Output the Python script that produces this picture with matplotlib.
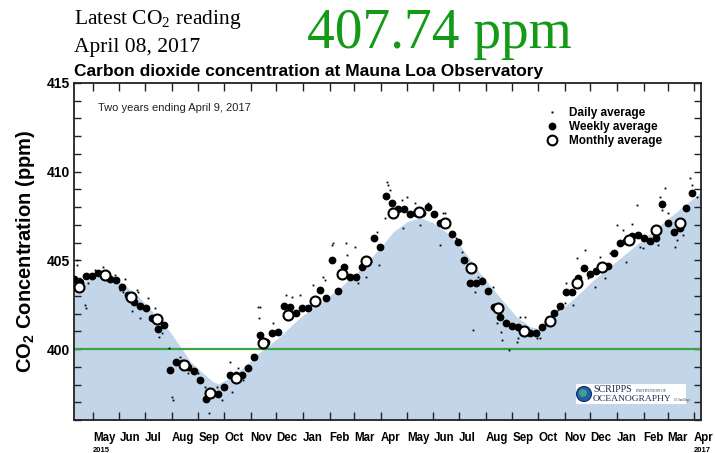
import matplotlib
matplotlib.use("Agg")
import matplotlib.pyplot as plt
import numpy as np
import pandas as pd
from matplotlib.lines import Line2D
from matplotlib.patches import Rectangle, Circle
from matplotlib.transforms import IdentityTransform, blended_transform_factory

plt.rcParams['font.family'] = ['Liberation Sans', 'DejaVu Sans']
plt.rcParams['mathtext.fontset'] = 'custom'
plt.rcParams['mathtext.rm'] = 'Liberation Serif'
plt.rcParams['mathtext.bf'] = 'Liberation Sans:bold'

# ---------------- data ----------------
start_date = "2015-04-09"
end_date = "2017-04-09"

# smooth seasonal curve (shaded area): day offset from start, ppm
fill_day = [0, 19, 34, 54, 73, 92, 112, 124, 135, 150, 162, 168, 182, 197, 213, 223,
            240, 263, 287, 310, 333, 357, 372, 388, 403, 419, 435, 450, 473, 497, 516,
            532, 541, 555, 570, 584, 605, 645, 683, 731]
fill_ppm = [403.5, 403.96, 404.13, 403.79, 403.06, 402.10, 400.97, 400.13, 399.34, 398.66,
            398.16, 398.04, 398.38, 398.94, 399.68, 400.05, 400.71, 401.76, 402.61, 403.45,
            404.46, 405.70, 406.60, 407.17, 407.42, 407.11, 406.55, 405.85, 404.30, 402.89,
            401.82, 401.26, 401.15, 401.54, 402.33, 402.9, 403.86, 405.45, 406.97, 408.85]

# daily averages (subset): day offset, ppm
daily_day = [3, 4, 13, 14, 16, 24, 34, 48, 59, 54, 57, 73, 75, 68, 77, 86, 94, 99, 103, 111,
             115, 114, 124, 133, 135, 145, 149, 153, 157, 167, 173, 182, 184, 191, 197, 215, 216, 208,
             217, 232, 247, 254, 263, 279, 290, 293, 301, 302, 307, 317, 318, 328, 331, 340, 353,
             356, 363, 365, 366, 368, 382, 384, 388, 398, 403, 413, 427, 433, 441,
             430, 445, 452, 465, 468, 471, 476, 489, 493, 498, 499, 507, 516, 518, 520, 526, 540,
             543, 551, 564, 574,
             572, 582, 586, 596, 599, 607, 613, 619, 625, 633, 640, 644, 651, 656, 660, 663, 674,
             681, 683, 685, 689, 692, 701, 703, 710, 718, 720, 726]
daily_ppm = [405.0, 404.75, 402.5, 402.3, 403.7, 404.46, 404.63, 404.2, 403.96, 403.34,
             403.2, 403.34, 403.2, 402.15, 401.76, 402.9, 402.3, 400.7, 400.9, 400.07,
             397.15, 397.3, 399.57, 398.66, 398.83, 398.66, 398.27, 397.88, 396.42, 397.88,
             397.15, 399.28, 397.6, 398.95, 398.27, 402.38, 401.76, 399.68,
             402.38, 401.48, 403.06, 402.95, 403.06, 403.62, 404.07, 403.9, 405.87, 405.99,
             403.17, 405.99, 405.31, 405.76, 403.73, 404.07, 406.6, 404.74, 407.39, 409.42,
             409.25, 408.97, 408.4, 406.83, 408.58, 408.24, 407.0, 408.24, 405.87, 407.67, 406.6,
             407.67, 406.27, 405.48, 401.09, 403.23, 404.07, 404.01, 403.5, 401.48, 400.97,
             400.52, 399.96, 400.41, 400.63, 401.82, 401.82, 400.63, 400.63, 401.82, 402.21, 403.73,
             402.6, 402.5, 405.14, 405.59, 404.01, 403.5, 405.2, 404.01, 405.42, 406.99,
             406.71, 404.91, 407.05, 408.12, 405.76, 405.7, 405.99, 405.87, 408.58, 407.84,
             409.08, 407.67, 405.76, 406.15, 406.43, 409.65, 409.25, 408.58]

# weekly averages, one per week starting at start_date
weekly_ppm = [403.96, 403.80, 404.10, 404.14, 404.31, 404.20, 403.96, 403.90, 403.51, 403.06,
              402.66, 402.44, 402.33, 401.76, 401.14, 401.37, 398.83, 399.28, 399.22, 399.00,
              398.77, 398.27, 397.20, 397.54, 397.48, 397.88, 398.55, 398.55, 398.55, 398.95,
              399.57, 400.81, 400.41, 400.92, 400.97, 402.44, 402.38, 402.04, 402.33, 402.33,
              402.66, 403.34, 402.89, 405.03, 403.28, 404.63, 404.07, 404.07, 404.63, 404.97,
              406.27, 405.76, 408.63, 408.24, 407.90, 407.90, 407.62, 407.68, 407.68, 408.01,
              407.62, 407.11, 407.11, 406.49, 406.04, 405.03, 403.73, 403.73, 403.85, 403.28,
              402.38, 401.82, 401.48, 401.31, 401.25, 401.03, 400.92, 400.92, 401.25, 401.54,
              402.04, 402.44, 403.23, 403.23, 404.01, 404.57, 404.24, 404.41, 404.63, 404.69,
              405.42, 405.99, 406.10, 406.38, 406.43, 406.27, 406.10, 406.27, 408.18, 407.11,
              406.60, 406.83, 407.96, 408.80]

# monthly averages, Apr 2015 .. Mar 2017 (plotted mid-month)
monthly_ppm = [403.5, 404.18, 402.94, 401.7, 399.1, 397.55, 398.38, 400.35, 401.93, 402.72,
               404.24, 404.97, 407.67, 407.73, 407.11, 404.58, 402.33, 401.03, 401.59, 403.73,
               404.63, 406.15, 406.72, 407.11]

month_labels = ["May", "Jun", "Jul", "Aug", "Sep", "Oct", "Nov", "Dec", "Jan", "Feb", "Mar", "Apr",
                "May", "Jun", "Jul", "Aug", "Sep", "Oct", "Nov", "Dec", "Jan", "Feb", "Mar", "Apr"]

latest_value = "407.74 ppm"
latest_date = "April 08, 2017"

# ---------------- derived dates ----------------
t0 = pd.Timestamp(start_date)
fill_dates = t0 + pd.to_timedelta(fill_day, unit="D")
daily_dates = t0 + pd.to_timedelta(daily_day, unit="D")
weekly_dates = pd.date_range(start_date, periods=len(weekly_ppm), freq="7D")
monthly_dates = pd.date_range("2015-04-01", periods=len(monthly_ppm), freq="MS") + pd.Timedelta(days=14)
month_ticks = pd.date_range("2015-05-01", periods=len(month_labels), freq="MS")

# ---------------- figure ----------------
fig = plt.figure(figsize=(7.15, 4.53), dpi=100)
ax = fig.add_axes([74 / 715, 33 / 453, 627 / 715, 337 / 453])

ax.fill_between(fill_dates, fill_ppm, 390, color="#c3d5e8", lw=0, zorder=1)
ax.axhline(400, color="#3aa545", lw=1.6, zorder=2)
ax.plot(daily_dates, daily_ppm, ls="none", marker="s", ms=1.3, mec="none", mfc="black", zorder=3)
ax.plot(weekly_dates, weekly_ppm, ls="none", marker="o", ms=4.6, mec="black", mfc="black", zorder=4)
ax.plot(monthly_dates, monthly_ppm, ls="none", marker="o", ms=7.2, mec="black", mfc="white",
        mew=1.5, zorder=5)

ax.set_xlim(pd.Timestamp(start_date), pd.Timestamp(end_date))
ax.set_ylim(396, 415)

ax.set_xticks(month_ticks)
ax.set_xticklabels(month_labels, ha="left", fontweight="bold", fontsize=8.3)
ax.xaxis.set_minor_locator(matplotlib.ticker.NullLocator())
ax.tick_params(axis="x", which="major", direction="in", top=True, length=6, width=1.0, pad=8.5,
               color="#222222")

ax.set_yticks([400, 405, 410, 415])
ax.set_yticklabels(["400", "405", "410", "415"], fontweight="bold", fontsize=10)
ax.yaxis.set_minor_locator(matplotlib.ticker.MultipleLocator(1))
ax.tick_params(axis="y", which="both", direction="in", right=True, length=5, width=1.0, pad=3,
               color="#222222")

for s in ax.spines.values():
    s.set_linewidth(1.3)
    s.set_color("#222222")

ax.set_ylabel(r"CO$_\mathbf{2}$ Concentration (ppm)", fontsize=14.5, fontweight="bold", labelpad=7)

# year labels under first and last month
trans = blended_transform_factory(ax.transData, ax.transAxes)
ax.text(month_ticks[0], -0.09, "2015", transform=trans, ha="left", va="center",
        fontsize=5.5, fontweight="bold")
ax.text(month_ticks[-1], -0.09, "2017", transform=trans, ha="left", va="center",
        fontsize=5.5, fontweight="bold", clip_on=False)

ax.text(0.038, 0.926, "Two years ending April 9, 2017", transform=ax.transAxes,
        fontsize=8, va="center", ha="left", color="#222222")

handles = [Line2D([], [], ls="none", marker="s", ms=1.5, mfc="black", mec="none"),
           Line2D([], [], ls="none", marker="o", ms=4.6, mfc="black", mec="black"),
           Line2D([], [], ls="none", marker="o", ms=7, mfc="white", mec="black", mew=1.5)]
ax.legend(handles, ["Daily average", "Weekly average", "Monthly average"],
          loc="upper left", bbox_to_anchor=(0.743, 0.947), frameon=False, borderpad=0,
          handlelength=1.0, handletextpad=1.0, labelspacing=0.2,
          prop={"weight": "bold", "size": 8.5})

# header texts
fig.text(74 / 715, 1 - 24 / 453, r"Latest CO$_\mathrm{2}$ reading", family="Liberation Serif",
         fontsize=15.5, va="baseline", ha="left")
fig.text(74 / 715, 1 - 52 / 453, latest_date, family="Liberation Serif",
         fontsize=15.5, va="baseline", ha="left")
fig.text(307 / 715, 1 - 48 / 453, latest_value, family="Liberation Serif",
         fontsize=40, va="baseline", ha="left", color="#139a17")
fig.text(74 / 715, 1 - 76 / 453, "Carbon dioxide concentration at Mauna Loa Observatory",
         fontsize=12.5, fontweight="bold", va="baseline", ha="left")

# Scripps logo (approximation)
idt = IdentityTransform()
fig.add_artist(Rectangle((576, 453 - 404), 110, 20, transform=idt, fc="white", ec="none", zorder=10))
fig.add_artist(Circle((584, 453 - 394), 7.5, transform=idt, fc="#1f5fa8", ec="#0d2f66", lw=0.8, zorder=11))
fig.add_artist(Circle((583, 453 - 393), 4, transform=idt, fc="#3f9f8a", ec="none", zorder=12))
fig.text(593 / 715, 1 - 392 / 453, "SCRIPPS", family="Liberation Serif", fontsize=7.2,
         va="baseline", ha="left", color="#1d2d55", zorder=12)
fig.text(636 / 715, 1 - 392 / 453, "INSTITUTION OF", family="Liberation Serif", fontsize=2.8,
         va="baseline", ha="left", color="#1d2d55", zorder=12)
fig.text(593 / 715, 1 - 401 / 453, "OCEANOGRAPHY", family="Liberation Serif", fontsize=6.8,
         va="baseline", ha="left", color="#1d2d55", zorder=12)
fig.text(674 / 715, 1 - 401 / 453, "UC San Diego", family="Liberation Serif", fontsize=2.0,
         va="baseline", ha="left", color="#1d2d55", zorder=12)

fig.savefig("out.png", dpi=100)
